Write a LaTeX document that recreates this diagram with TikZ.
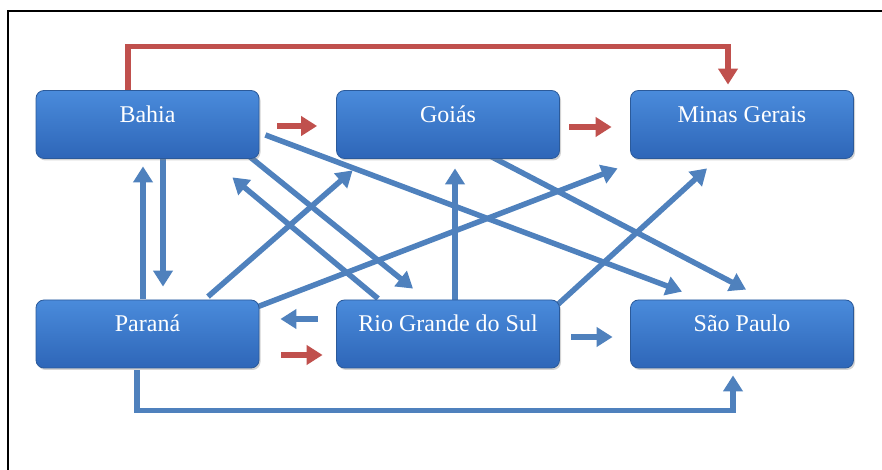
\documentclass[tikz,border=0pt]{standalone}
\usepackage{fontspec}
\setmainfont{Liberation Serif}
\usepackage{tikz}
\usetikzlibrary{arrows.meta,shadows,backgrounds}

\definecolor{boxtop}{HTML}{4A8BDB}
\definecolor{boxbot}{HTML}{2E66B8}
\definecolor{boxline}{HTML}{2B5A9A}
\definecolor{linkblue}{HTML}{4F81BD}
\definecolor{linkred}{HTML}{C0504D}

\begin{document}
\begin{tikzpicture}[x=1pt,y=1pt,
  state/.style={draw=boxline,line width=0.8pt,rounded corners=8pt,
    top color=boxtop,bottom color=boxbot,
    minimum width=223pt,minimum height=68pt,inner sep=0pt,
    text=white,font=\fontsize{24}{28}\selectfont,
    text height=16pt,text depth=20pt,
    drop shadow={opacity=0.35,shadow xshift=1.5pt,shadow yshift=-2pt}},
  bluearrow/.style={draw=linkblue,line width=5.5pt,
    -{Triangle[width=19pt,length=16pt]}},
  redarrow/.style={draw=linkred,line width=5.5pt,
    -{Triangle[width=19pt,length=16pt]}}]
\useasboundingbox (0,0) rectangle (882,470);
\draw[line width=1.5pt] (8,0) -- (8,459) -- (882,459);

\node[state] (bahia) at (147.5,345.5) {Bahia};
\node[state] (goias) at (448,345.5) {Goiás};
\node[state] (minas) at (742,345.5) {Minas Gerais};
\node[state] (parana) at (147.5,136) {Paraná};
\node[state] (rio) at (448,136) {Rio Grande do Sul};
\node[state] (saopaulo) at (742,136) {São Paulo};

\begin{pgfonlayer}{background}
% red links
\draw[redarrow] ([xshift=-19.5pt]bahia.north) -- ++(0,43.5)
  -| ([xshift=-14pt,yshift=5.5pt]minas.north);
\draw[redarrow] ([xshift=18pt,yshift=-1.5pt]bahia.east) -- ([xshift=-19pt,yshift=-1.5pt]goias.west);
\draw[redarrow] ([xshift=9.5pt,yshift=-2.5pt]goias.east) -- ([xshift=-18.5pt,yshift=-2.5pt]minas.west);
\draw[redarrow] ([xshift=22pt,yshift=-21pt]parana.east) -- ([xshift=-13.5pt,yshift=-21pt]rio.west);
% blue links
\draw[bluearrow] ([xshift=-18.5pt,yshift=15pt]rio.west) -- ([xshift=21pt,yshift=15pt]parana.east);
\draw[bluearrow] ([xshift=11.5pt,yshift=-3pt]rio.east) -- ([xshift=-17.5pt,yshift=-3pt]saopaulo.west);
\draw[bluearrow] ([xshift=-10.5pt,yshift=-2pt]parana.south) -- ++(0,-40)
  -| ([xshift=-9pt,yshift=-7pt]saopaulo.south);
\draw[bluearrow] ([xshift=-4.5pt,yshift=1pt]parana.north) -- ([xshift=-4.5pt,yshift=-7.5pt]bahia.south);
\draw[bluearrow] ([xshift=15.5pt]bahia.south) -- ([xshift=15.5pt,yshift=13pt]parana.north);
\draw[bluearrow] ([xshift=-15pt,yshift=6.5pt]bahia.south east) -- ([xshift=-35pt,yshift=11pt]rio.north);
\draw[bluearrow] ([xshift=-70pt,yshift=1pt]rio.north) -- ([xshift=-27pt,yshift=-18.5pt]bahia.south east);
\draw[bluearrow] ([xshift=60.5pt,yshift=3pt]parana.north) -- ([xshift=16.5pt,yshift=-11.5pt]goias.south west);
\draw[bluearrow] ([xshift=-4pt,yshift=-8pt]parana.north east) -- ([xshift=-12.5pt,yshift=-9.5pt]minas.south west);
\draw[bluearrow] ([xshift=6pt,yshift=-10.5pt]bahia.east) -- ([xshift=-60pt,yshift=8pt]saopaulo.north);
\draw[bluearrow] ([xshift=39pt,yshift=4.5pt]goias.south) -- ([xshift=4pt,yshift=10pt]saopaulo.north);
\draw[bluearrow] ([xshift=7pt]rio.north) -- ([xshift=7pt,yshift=-9.5pt]goias.south);
\draw[bluearrow] ([xshift=-5.5pt,yshift=-8pt]rio.north east) -- ([xshift=-35pt,yshift=-9.5pt]minas.south);
\end{pgfonlayer}
\end{tikzpicture}
\end{document}
